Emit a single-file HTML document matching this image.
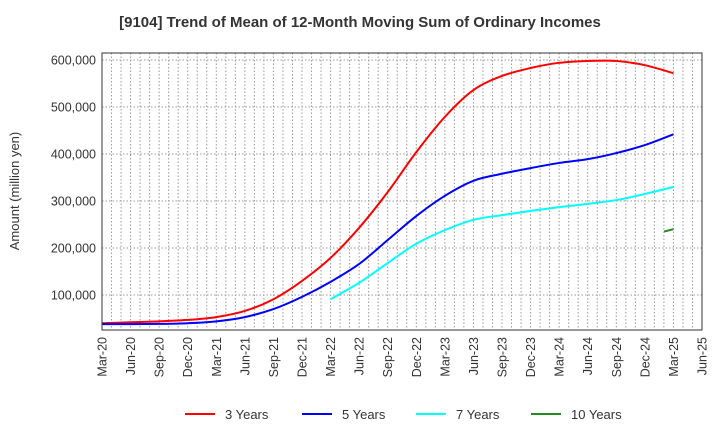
<!DOCTYPE html>
<html><head><meta charset="utf-8"><style>
body{margin:0;background:#fff;font-family:"Liberation Sans",sans-serif}
svg text{font-family:"Liberation Sans",sans-serif}
</style></head><body>
<svg id="c" width="720" height="440">
<text x="360" y="27" text-anchor="middle" font-size="15" font-weight="bold" fill="#333">[9104]  Trend of Mean of 12-Month Moving Sum of Ordinary Incomes</text>
<text transform="translate(19,191) rotate(-90)" text-anchor="middle" font-size="13" fill="#333">Amount (million yen)</text>
<g id="grid"></g><g id="series"></g><g id="axes"></g><g id="legend"></g>
</svg>
<script>
const xLabels=["Mar-20","Jun-20","Sep-20","Dec-20","Mar-21","Jun-21","Sep-21","Dec-21","Mar-22","Jun-22","Sep-22","Dec-22","Mar-23","Jun-23","Sep-23","Dec-23","Mar-24","Jun-24","Sep-24","Dec-24","Mar-25","Jun-25"];
const yTicks=[100000,200000,300000,400000,500000,600000];
const s3=[40,42,44,47,53,66,91,130,179,243,319,404,479,536,566,583,594,598,598,589,572];
const s5=[38,38,38.5,40,44,53,70,96,128,166,217,268,311,343,358,370,381,389,402,419,442];
const s7=[null,null,null,null,null,null,null,null,91,126,168,209,238,260,270,279,287,294,302,315,330];
const s10x=[19.67,20];
const s10=[235,240];
const L=102,R=702,T=53,B=330;
const NS="http://www.w3.org/2000/svg";
const xs=i=>L+i*(R-L)/21;
const ys=v=>342-v*47/100000;
function mk(t,a,p){const e=document.createElementNS(NS,t);for(const k in a)e.setAttribute(k,a[k]);p.appendChild(e);return e;}
const g=document.getElementById('grid'),ax=document.getElementById('axes'),se=document.getElementById('series'),lg=document.getElementById('legend');
for(let m=1;m<63;m++){const x=L+m*(R-L)/63;const l=mk('line',{x1:x,x2:x,y1:T,y2:B,stroke:'#999','stroke-dasharray':'1.5,2','stroke-width':1},g);

}
yTicks.forEach(v=>{const y=ys(v);const l=mk('line',{x1:L,x2:R,y1:y,y2:y,stroke:'#999','stroke-dasharray':'1.5,2'},g);


const t=mk('text',{x:L-6,y:y+4.5,'text-anchor':'end','font-size':12.5,fill:'#333'},ax);t.textContent=v.toLocaleString('en-US');

});
const fr=mk('rect',{x:L,y:T,width:R-L,height:B-T,fill:'none',stroke:'#333','stroke-width':1},ax);


xLabels.forEach((s,i)=>{const x=xs(i);const t=mk('text',{transform:`translate(${x+4.5},337) rotate(-90)`,'text-anchor':'end','font-size':12.5,fill:'#333'},ax);t.textContent=s;

});
function path(pts){let d=`M${pts[0][0]},${pts[0][1]}`;for(let i=0;i<pts.length-1;i++){const p0=pts[Math.max(0,i-1)],p1=pts[i],p2=pts[i+1],p3=pts[Math.min(pts.length-1,i+2)];
d+=` C${p1[0]+(p2[0]-p0[0])/6},${p1[1]+(p2[1]-p0[1])/6} ${p2[0]-(p3[0]-p1[0])/6},${p2[1]-(p3[1]-p1[1])/6} ${p2[0]},${p2[1]}`;}return d;}
function draw(arr,xa,col,name){const pts=[];arr.forEach((v,i)=>{if(v!=null)pts.push([xs(xa?xa[i]:i),ys(v*1000)]);});
const p=mk('path',{d:path(pts),fill:'none',stroke:col,'stroke-width':2},se);

}
draw(s3,null,'#ff0000','line-3-years');
draw(s5,null,'#0000ff','line-5-years');
draw(s7,null,'#00ffff','line-7-years');
draw(s10,s10x,'#228b22','line-10-years');
[['3 Years','#ff0000',185],['5 Years','#0000ff',302],['7 Years','#00ffff',416],['10 Years','#228b22',531]].forEach(([n,c,x])=>{
const l=mk('line',{x1:x,x2:x+30,y1:414,y2:414,stroke:c,'stroke-width':2},lg);


const t=mk('text',{x:x+40,y:419,'font-size':13,fill:'#333'},lg);t.textContent=n;

});
</script>
</body></html>
